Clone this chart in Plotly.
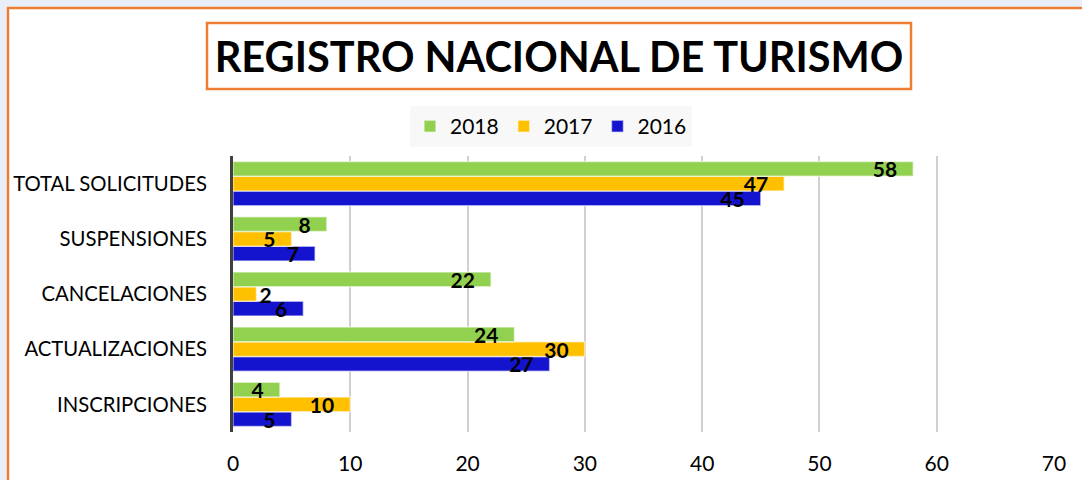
import plotly.graph_objects as go

# ---- data ----
categories = ["INSCRIPCIONES", "ACTUALIZACIONES", "CANCELACIONES", "SUSPENSIONES", "TOTAL SOLICITUDES"]
v2016 = [5, 27, 6, 7, 45]
v2017 = [10, 30, 2, 5, 47]
v2018 = [4, 24, 22, 8, 58]
series = [("2016", v2016, "#1414CF"), ("2017", v2017, "#FFC000"), ("2018", v2018, "#92D050")]
x_ticks = [0, 10, 20, 30, 40, 50, 60, 70]
title_text = "REGISTRO NACIONAL DE TURISMO"

# ---- layout geometry (pixels) ----
W, H = 1082, 480
L, R, T, B = 233, 1054, 156, 432
ORANGE = "#ED7D31"
FONT = "Lato"
SMALL = 3  # values below this do not fit their label inside the bar


def px(x):
    return (x - L) / (R - L)


def py(y):
    return (B - y) / (B - T)


fig = go.Figure()
for name, vals, col in series:
    positions = ["outside" if v < SMALL else "inside" for v in vals]
    templates = ["<b>%{x}</b>" if v < SMALL else "<b>%{x}</b>\u2002\u2009" for v in vals]
    fig.add_trace(go.Bar(
        name=name, y=categories, x=vals, orientation="h",
        marker=dict(color=col, line=dict(color="rgba(255,255,255,0.55)", width=1.5)),
        text=vals, texttemplate=templates,
        textposition=positions, insidetextanchor="end", constraintext="none",
        textangle=0, cliponaxis=False,
        textfont=dict(family=FONT, size=21, color="black"),
        insidetextfont=dict(family=FONT, size=21, color="black"),
        outsidetextfont=dict(family=FONT, size=21, color="black"),
        hoverinfo="x+name",
    ))

fig.update_layout(
    width=W, height=H, autosize=False,
    margin=dict(l=L, r=W - R, t=T, b=H - B, pad=0, autoexpand=False),
    paper_bgcolor="#E9EFF8", plot_bgcolor="white",
    barmode="group", bargap=0.2, bargroupgap=0,
    font=dict(family=FONT, size=21, color="black"),
    title=dict(text="<b>" + title_text + "</b>", x=559 / W, xref="container", xanchor="center",
               y=1 - 57 / H, yref="container", yanchor="middle",
               font=dict(family=FONT, size=41.5, color="black")),
    legend=dict(orientation="h", x=px(551), xanchor="center", y=py(106), yanchor="top",
                bgcolor="#F8F8F8", traceorder="reversed", font=dict(family=FONT, size=21),
                itemwidth=30),
    xaxis=dict(range=[0, 70], tickvals=x_ticks, showgrid=True, gridcolor="#D0D0D0", gridwidth=1.5,
               zeroline=False, showline=False, ticks="", ticklabelstandoff=17, automargin=False,
               tickfont=dict(family=FONT, size=21, color="black"), fixedrange=True),
    yaxis=dict(categoryorder="array", categoryarray=categories, showline=True, linecolor="#404040",
               linewidth=3, showgrid=False, ticks="", ticklabelstandoff=19, automargin=False,
               tickfont=dict(family=FONT, size=20.3, color="black"), fixedrange=True),
    shapes=[
        dict(type="rect", xref="paper", yref="paper", x0=px(8), x1=px(1095), y0=py(495), y1=py(8),
             fillcolor="white", line=dict(color=ORANGE, width=2.5), layer="below"),
        dict(type="rect", xref="paper", yref="paper", x0=px(207), x1=px(911), y0=py(89), y1=py(23),
             fillcolor="rgba(0,0,0,0)", line=dict(color=ORANGE, width=2.5), layer="above"),
    ],
)

fig.write_html("out.html", config={"displayModeBar": False},
               post_script="document.body.style.margin='0';")
